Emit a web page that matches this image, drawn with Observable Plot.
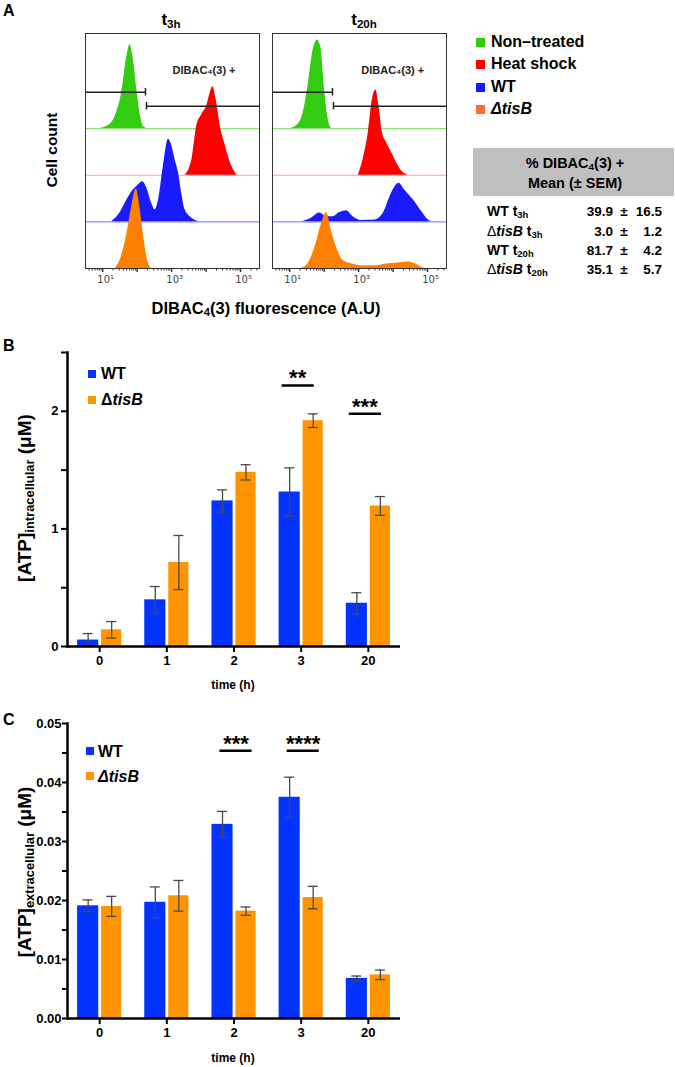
<!DOCTYPE html>
<html><head><meta charset="utf-8">
<script src="https://cdn.jsdelivr.net/npm/d3@7"></script>
<script src="https://cdn.jsdelivr.net/npm/@observablehq/plot@0.6"></script>
<style>
body{margin:0;background:#fff;font-family:"Liberation Sans",Arial,sans-serif;color:#000;}
#page{position:relative;width:675px;height:1067px;overflow:hidden;background:#fff;}
.t{position:absolute;white-space:nowrap;font-weight:bold;}
.t sub{font-size:0.68em;vertical-align:-0.25em;line-height:0;}
.sq{position:absolute;}
</style></head><body><div id="page"></div>
<script>
// ---------------- DATA ----------------
// Panel A: flow cytometry histograms, points = [log10(fluorescence), relative count]
const green3h  = [[0.87,0],[1.21,0.09],[1.40,0.34],[1.55,0.77],[1.70,1.55],[1.79,1.80],[1.89,1.48],[1.99,0.84],[2.08,0.34],[2.18,0.05],[2.28,0]];
const red3h    = [[3.39,0],[3.59,0.34],[3.73,1.06],[3.88,1.31],[4.02,1.49],[4.12,1.77],[4.20,1.90],[4.29,1.63],[4.41,1.06],[4.56,0.63],[4.70,0.28],[4.90,0]];
const blue3h   = [[1.26,0],[1.50,0.19],[1.70,0.47],[1.89,0.69],[1.99,0.76],[2.16,0.86],[2.28,0.72],[2.42,0.40],[2.52,0.26],[2.62,0.47],[2.76,1.19],[2.91,1.77],[3.01,1.62],[3.10,1.33],[3.20,1.05],[3.29,0.62],[3.39,0.26],[3.59,0.08],[3.83,0]];
const orange3h = [[1.36,0],[1.50,0.17],[1.70,0.74],[1.84,1.32],[1.97,1.71],[2.08,1.32],[2.18,0.74],[2.28,0.24],[2.40,0]];
const green20h  = [[1.00,0],[1.24,0.09],[1.39,0.34],[1.53,0.91],[1.68,1.69],[1.81,1.90],[1.90,1.76],[2.02,0.77],[2.12,0.19],[2.21,0]];
const red20h    = [[2.99,0],[3.13,0.34],[3.28,0.91],[3.40,1.63],[3.50,1.83],[3.59,1.49],[3.69,0.91],[3.81,0.70],[3.96,0.48],[4.10,0.27],[4.25,0.09],[4.44,0]];
const blue20h   = [[1.34,0],[1.63,0.08],[1.87,0.19],[2.07,0.11],[2.26,0.11],[2.45,0.20],[2.65,0.24],[2.84,0.11],[3.08,0.03],[3.47,0.04],[3.72,0.19],[3.91,0.54],[4.05,0.75],[4.17,0.83],[4.34,0.68],[4.59,0.47],[4.83,0.22],[5.02,0.04],[5.12,0]];
const orange20h = [[1.34,0],[1.53,0.10],[1.73,0.45],[1.92,0.95],[2.07,1.20],[2.21,0.81],[2.36,0.45],[2.55,0.17],[2.79,0.10],[3.08,0.06],[3.47,0.06],[3.86,0.10],[4.25,0.13],[4.44,0.14],[4.68,0.09],[4.83,0.02],[4.93,0]];
const histConditions = ["Non\u2013treated","Heat shock","WT","\u0394tisB"];
const gateLog = [2.24, 2.27];          // gate boundaries (log10)
const histTicks = [10, 100, 1000, 10000, 100000];
const histTickLabels = ["10\u00b9","","10\u00b3","","10\u2075"];
const tableRows = ["WT t<sub>3h</sub>", "\u0394<i>tisB</i> t<sub>3h</sub>", "WT t<sub>20h</sub>", "\u0394<i>tisB</i> t<sub>20h</sub>"];
const tableMean = ["39.9","3.0","81.7","35.1"];
const tableSem  = ["16.5","1.2","4.2","5.7"];

// Panels B and C
const times = ["0","1","2","3","20"];
const intraWT     = [0.055, 0.397, 1.238, 1.314, 0.368];
const intraWTsem  = [0.055, 0.113, 0.094, 0.205, 0.089];
const intraTis    = [0.142, 0.714, 1.481, 1.920, 1.195];
const intraTisSem = [0.070, 0.230, 0.065, 0.058, 0.080];
const extraWT     = [0.0191, 0.0197, 0.0329, 0.0375, 0.0068];
const extraWTsem  = [0.0010, 0.0026, 0.0022, 0.0034, 0.0004];
const extraTis    = [0.0190, 0.0208, 0.0182, 0.0205, 0.0074];
const extraTisSem = [0.0017, 0.0026, 0.0007, 0.0019, 0.0008];
const intraSigTimes = ["3","20"], intraSigLabels = ["**","***"], intraSigY = [2.22, 1.98];
const extraSigTimes = ["2","3"], extraSigLabels = ["***","****"], extraSigY = [0.0454, 0.0454];
const intraTicks = [0,0.5,1,1.5,2,2.5], intraTickLabels = ["0","","1","","2",""];
const extraTicks = [0,0.005,0.01,0.015,0.02,0.025,0.03,0.035,0.04,0.045,0.05];
const extraTickLabels = ["0.00","","0.01","","0.02","","0.03","","0.04","","0.05"];

// ---------------- STYLE ----------------
const histColors = ["#33cc11","#ff0000","#1a1aff","#ff8000"];
const histLineColors = ["#88e077","#ffa0a0","#8c8cff","#ff8000"];
const legendColors = ["#33cc11","#ff0000","#1a1aff","#ff6a3a"];
const BLUE = "#0433ff", ORANGE = "#ff9300";

const page = document.getElementById("page");
function txt(html, x, y, css, anchor = "middle", rot = false) {
  const d = document.createElement("div");
  d.className = "t";
  d.innerHTML = html;
  const tx = anchor === "middle" ? "-50%" : anchor === "end" ? "-100%" : "0";
  d.style.cssText = `left:${x}px;top:${y}px;transform:translate(${tx},-50%)${rot ? " rotate(-90deg)" : ""};` + css;
  page.appendChild(d);
  return d;
}
function put(node, left, top) {
  const w = document.createElement("div");
  w.style.cssText = `position:absolute;left:${left}px;top:${top}px;`;
  w.appendChild(node);
  page.appendChild(w);
}
function square(x, y, s, color) {
  const d = document.createElement("div");
  d.className = "sq";
  d.style.cssText = `left:${x}px;top:${y}px;width:${s}px;height:${s}px;background:${color};`;
  page.appendChild(d);
}

// ---------------- PANEL A ----------------
const xDom = [10 ** 0.5, 10 ** 5.55];
const offsets = [3, 2, 1, 0];
const histMinor = [];
for (let k = 0; k <= 5; k++) for (let m = 2; m <= 9; m++) { const v = m * 10 ** k; if (v > xDom[0] && v < xDom[1]) histMinor.push(v); }
const tickLabelMap = new Map(histTicks.map((t, i) => [t, histTickLabels[i]]));

function hist(curves, labelLog) {
  const marks = [];
  offsets.forEach((o, i) => marks.push(Plot.ruleY([o], {stroke: histLineColors[i], strokeWidth: 1.2})));
  curves.forEach((pts, i) => {
    marks.push(Plot.areaY(pts.map(([l, h]) => ({x: 10 ** l, y1: offsets[i], y2: offsets[i] + h})),
      {x: "x", y1: "y1", y2: "y2", fill: histColors[i], curve: "monotone-x"}));
  });
  const gates = [{x1: xDom[0], x2: 10 ** gateLog[0], y: 3.78, cap: 10 ** gateLog[0]},
                 {x1: 10 ** gateLog[1], x2: xDom[1], y: 3.48, cap: 10 ** gateLog[1]}];
  marks.push(Plot.ruleY(gates, {x1: "x1", x2: "x2", y: "y", stroke: "#222", strokeWidth: 1.5}));
  marks.push(Plot.ruleX(gates, {x: "cap", y1: d => d.y - 0.08, y2: d => d.y + 0.08, stroke: "#222", strokeWidth: 1.5}));
  marks.push(Plot.text(["DIBAC\u2084(3) +"], {x: 10 ** labelLog, y: 4.25, text: d => d, fontSize: 11, fontWeight: "bold", fill: "#222", fontFamily: "Liberation Sans, Arial, sans-serif"}));
  marks.push(Plot.frame({stroke: "#333", strokeWidth: 1}));
  marks.push(Plot.axisX({ticks: histMinor, tickFormat: () => "", tickSize: 2.5, stroke: "#333"}));
  marks.push(Plot.axisX({ticks: histTicks, tickFormat: () => "", tickSize: 4, strokeWidth: 1.4, stroke: "#333"}));
  marks.push(Plot.axisX({ticks: histTicks, tickFormat: d => tickLabelMap.get(d), tickSize: 0, tickPadding: 7, fill: "#444", dx: 3}));
  return Plot.plot({
    width: 178, height: 262, marginLeft: 2, marginRight: 2, marginTop: 2, marginBottom: 25,
    x: {type: "log", domain: xDom},
    y: {domain: [0, 5.04], axis: null},
    style: {fontFamily: "DejaVu Sans, sans-serif", fontSize: "10px", background: "transparent"},
    marks
  });
}
put(hist([green3h, red3h, blue3h, orange3h], 3.94), 83, 31);
put(hist([green20h, red20h, blue20h, orange20h], 3.99), 270, 31);

txt("A", 3, 11, "font-size:16px;", "start");
txt("t<sub>3h</sub>", 171, 20, "font-size:17px;");
txt("t<sub>20h</sub>", 364, 20, "font-size:17px;");
txt("Cell count", 52, 150, "font-size:15.5px;", "middle", true);
txt("DIBAC<sub>4</sub>(3) fluorescence (A.U)", 266, 308, "font-size:16.5px;");

// legend A
const legY = [42, 64, 87, 109];
histConditions.forEach((c, i) => {
  square(476, legY[i] - 4.5, 9, legendColors[i]);
  const h = c.startsWith("\u0394") ? "<i>" + c + "</i>" : c;
  txt(h, 491, legY[i], "font-size:16px;", "start");
});

// table
const box = document.createElement("div");
box.style.cssText = "position:absolute;left:473px;top:148px;width:201px;height:48px;background:#bfbfbf;";
page.appendChild(box);
txt("% DIBAC<sub>4</sub>(3) +", 575, 163, "font-size:14.5px;");
txt("Mean (\u00b1 SEM)", 575, 183, "font-size:14.5px;");
const rowY = [211, 231, 250, 269];
tableRows.forEach((r, i) => {
  txt(r.replace("\u0394", "<span style='font-weight:normal'>\u0394</span>"), 487, rowY[i], "font-size:14px;", "start");
  txt(tableMean[i], 613, rowY[i], "font-size:13.5px;", "end");
  txt("\u00b1", 624, rowY[i], "font-size:13.5px;");
  txt(tableSem[i], 662, rowY[i], "font-size:13.5px;", "end");
});

// ---------------- PANELS B, C ----------------
function bars(wt, wtSem, tis, tisSem, yDomain, ticks, tickLabels, sigT, sigL, sigY, sigInset, sigDx, tickSize, tickPadding, frameH) {
  const rowsW = times.map((t, i) => ({time: t, value: wt[i], sem: wtSem[i]}));
  const rowsT = times.map((t, i) => ({time: t, value: tis[i], sem: tisSem[i]}));
  const sig = sigT.map((t, i) => ({time: t, label: sigL[i], y: sigY[i]}));
  const lab = new Map(ticks.map((t, i) => [t, tickLabels[i]]));
  const ebar = {stroke: "#4a4a4a", strokeWidth: 1.3};
  return Plot.plot({
    width: 420, height: 12 + frameH + 30, marginLeft: 67, marginRight: 20, marginTop: 12, marginBottom: 30,
    x: {type: "band", domain: times, paddingInner: 0.343, paddingOuter: 0.15, round: false},
    y: {domain: yDomain},
    style: {fontFamily: "Liberation Sans, Arial, sans-serif", fontSize: "13px", fontWeight: "bold", background: "transparent"},
    marks: [
      Plot.barY(rowsW, {x: "time", y: "value", fill: BLUE, insetRight: 23}),
      Plot.barY(rowsT, {x: "time", y: "value", fill: ORANGE, insetLeft: 24}),
      Plot.ruleX(rowsW, {x: "time", y1: d => Math.max(0, d.value - d.sem), y2: d => d.value + d.sem, dx: -11.5, ...ebar}),
      Plot.ruleX(rowsT, {x: "time", y1: d => d.value - d.sem, y2: d => d.value + d.sem, dx: 12, ...ebar}),
      Plot.tickY(rowsW, {x: "time", y: d => d.value + d.sem, insetLeft: 5.5, insetRight: 28.6, ...ebar}),
      Plot.tickY(rowsW, {x: "time", y: d => Math.max(0, d.value - d.sem), insetLeft: 5.5, insetRight: 28.6, ...ebar}),
      Plot.tickY(rowsT, {x: "time", y: d => d.value + d.sem, insetLeft: 29.1, insetRight: 5, ...ebar}),
      Plot.tickY(rowsT, {x: "time", y: d => d.value - d.sem, insetLeft: 29.1, insetRight: 5, ...ebar}),
      Plot.tickY(sig, {x: "time", y: "y", insetLeft: sigInset[0], insetRight: sigInset[1], stroke: "#000", strokeWidth: 2.5}),
      Plot.text(sig, {x: "time", y: "y", text: "label", dx: sigDx, dy: -7, fontSize: 22, fontWeight: "bold"}),
      Plot.ruleY([0], {stroke: "#000", strokeWidth: 2.5}),
      Plot.frame({anchor: "left", stroke: "#000", strokeWidth: 2.5}),
      Plot.axisY({ticks, tickFormat: d => lab.get(d), tickSize, tickPadding, strokeWidth: 2, label: null}),
      Plot.axisX({tickSize: 6, tickPadding: 3, strokeWidth: 2, label: null})
    ]
  });
}
put(bars(intraWT, intraWTsem, intraTis, intraTisSem, [0, 2.5], intraTicks, intraTickLabels,
  intraSigTimes, intraSigLabels, intraSigY, [3, 9], -3.5, 6, 3, 294), 0, 340);
put(bars(extraWT, extraWTsem, extraTis, extraTisSem, [0, 0.05], extraTicks, extraTickLabels,
  extraSigTimes, extraSigLabels, extraSigY, [8, 4], 2, 5, 1, 295), 0, 711);

// labels B
txt("B", 3, 346, "font-size:16px;", "start");
txt("[ATP]<sub>intracellular</sub> (\u03bcM)", 25, 498, "font-size:19px;", "middle", true);
txt("time (h)", 233, 685, "font-size:12px;");
square(88, 370, 8, BLUE); txt("WT", 101, 374, "font-size:16px;", "start");
square(88, 396, 8, ORANGE); txt("\u0394<i>tisB</i>", 101, 400, "font-size:16px;", "start");
// labels C
txt("C", 3, 720, "font-size:16px;", "start");
txt("[ATP]<sub>extracellular</sub> (\u03bcM)", 25, 872, "font-size:19px;", "middle", true);
txt("time (h)", 233, 1058, "font-size:12px;");
square(86, 747, 8, BLUE); txt("WT", 98, 752, "font-size:16px;", "start");
square(86, 772, 8, ORANGE); txt("<i>\u0394tisB</i>", 98, 777, "font-size:16px;", "start");
</script>
</body></html>
